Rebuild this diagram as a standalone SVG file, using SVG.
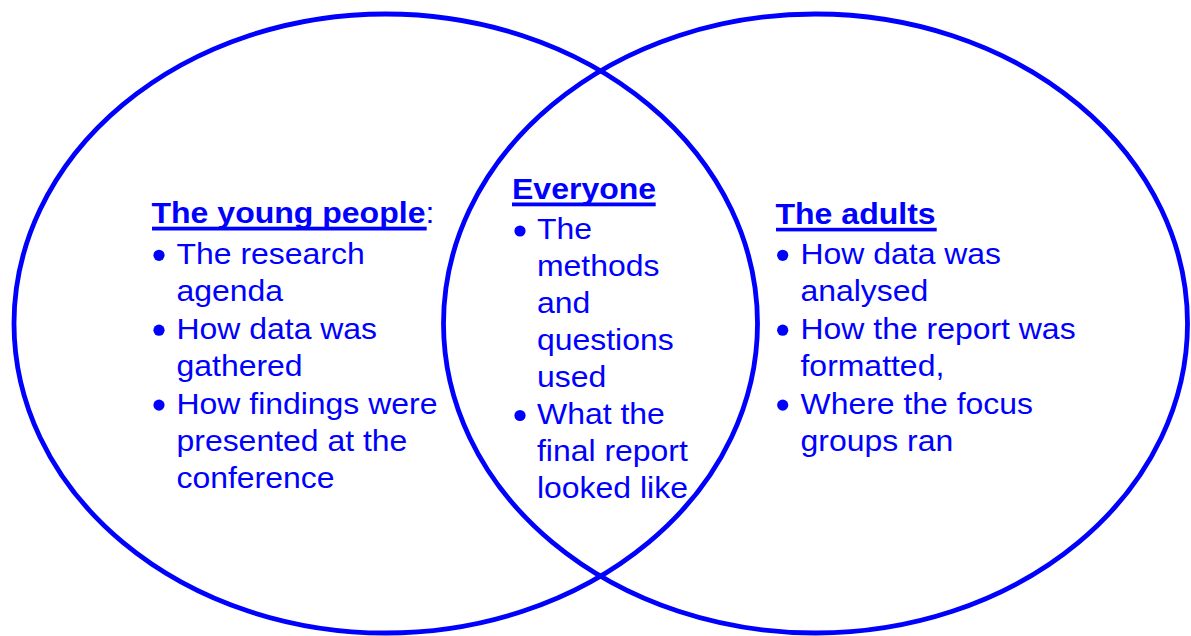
<svg xmlns="http://www.w3.org/2000/svg" width="1191" height="636" viewBox="0 0 1191 636">
<style>
.set{fill:none;stroke:#0000FF;stroke-width:4.8}
.t{font-family:"Liberation Sans",Arial,sans-serif;font-size:29.5px;fill:#0000FF}
.h{font-family:"Liberation Sans",Arial,sans-serif;font-size:29.8px;font-weight:bold;fill:#0000FF}
.n{font-weight:normal}
.b{fill:#0000FF}
.u{fill:#0000FF}
</style>
<rect width="1191" height="636" fill="#FFFFFF"/>
<g id="set-young-people">
<ellipse class="set" cx="385.75" cy="323.5" rx="371.75" ry="309.5"/>
<text class="h" transform="translate(151.5 0) scale(1.075 1)"><tspan x="0" y="223.5">The young people<tspan class="n">:</tspan></tspan></text>
<rect class="u" x="152" y="226.7" width="274.7" height="3.8"/>
<circle class="b" cx="159" cy="255.3" r="5.6"/>
<circle class="b" cx="159" cy="330.2" r="5.6"/>
<circle class="b" cx="159" cy="405.1" r="5.6"/>
<text class="t" transform="translate(176.5 0) scale(1.083 1)">
<tspan x="0" y="263.8">The research</tspan>
<tspan x="0" y="301.25">agenda</tspan>
<tspan x="0" y="338.7">How data was</tspan>
<tspan x="0" y="376.15">gathered</tspan>
<tspan x="0" y="413.6">How findings were</tspan>
<tspan x="0" y="451.05">presented at the</tspan>
<tspan x="0" y="488.5">conference</tspan>
</text>
</g>
<g id="set-adults">
<ellipse class="set" cx="815.5" cy="323.5" rx="372" ry="309.5"/>
<text class="h" transform="translate(775.5 0) scale(1.075 1)"><tspan x="0" y="224">The adults</tspan></text>
<rect class="u" x="776" y="227.8" width="160.7" height="3.6"/>
<circle class="b" cx="782.7" cy="255.3" r="5.6"/>
<circle class="b" cx="782.7" cy="330.2" r="5.6"/>
<circle class="b" cx="782.7" cy="405.1" r="5.6"/>
<text class="t" transform="translate(800.5 0) scale(1.083 1)">
<tspan x="0" y="263.8">How data was</tspan>
<tspan x="0" y="301.25">analysed</tspan>
<tspan x="0" y="338.7">How the report was</tspan>
<tspan x="0" y="376.15">formatted,</tspan>
<tspan x="0" y="413.6">Where the focus</tspan>
<tspan x="0" y="451.05">groups ran</tspan>
</text>
</g>
<g id="overlap-everyone">
<text class="h" transform="translate(512 0) scale(1.075 1)"><tspan x="0" y="199.5">Everyone</tspan></text>
<rect class="u" x="512" y="202.5" width="143.7" height="3.8"/>
<circle class="b" cx="520" cy="231" r="5.6"/>
<circle class="b" cx="520" cy="415.5" r="5.6"/>
<text class="t" transform="translate(537 0) scale(1.083 1)">
<tspan x="0" y="239.5">The</tspan>
<tspan x="0" y="276.4">methods</tspan>
<tspan x="0" y="313.3">and</tspan>
<tspan x="0" y="350.2">questions</tspan>
<tspan x="0" y="387.1">used</tspan>
<tspan x="0" y="424">What the</tspan>
<tspan x="0" y="460.9">final report</tspan>
<tspan x="0" y="497.8">looked like</tspan>
</text>
</g>
</svg>
